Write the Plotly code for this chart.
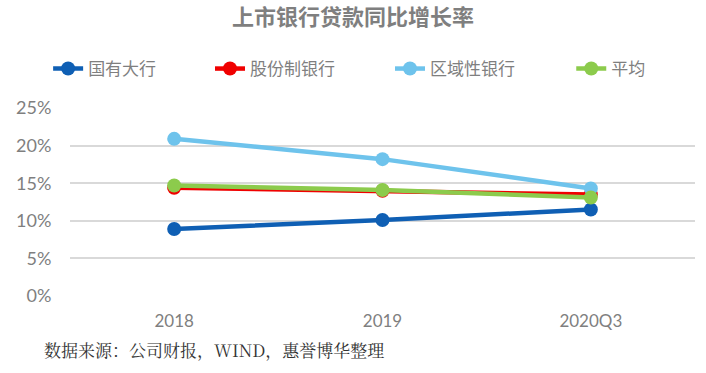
import plotly.graph_objects as go

categories = ["2018", "2019", "2020Q3"]
state_banks = [0.089, 0.101, 0.115]
joint_stock = [0.144, 0.140, 0.135]
regional = [0.209, 0.182, 0.143]
average = [0.147, 0.141, 0.131]

series_names = ["国有大行", "股份制银行", "区域性银行", "平均"]
series_values = [state_banks, joint_stock, regional, average]
colors = ["#0F5FB4", "#F00000", "#6EC3EC", "#8CCB4C"]
legend_ids = ["legend", "legend2", "legend3", "legend4"]
legend_x = [-0.035, 0.224, 0.512, 0.802]

fig = go.Figure()
for name, vals, c, lg in zip(series_names, series_values, colors, legend_ids):
    fig.add_trace(go.Scatter(
        x=categories, y=vals, name=name, mode="lines+markers",
        line=dict(color=c, width=4.5),
        marker=dict(color=c, size=14),
        legend=lg,
    ))

legend_font = dict(family="'Noto Sans CJK SC', sans-serif", size=17, color="#7F7F7F")
layout_legends = {}
for lg, lx in zip(legend_ids, legend_x):
    layout_legends[lg] = dict(orientation="h", x=lx, xanchor="left",
                              yref="container", y=1 - 69 / 373,
                              yanchor="middle", font=legend_font,
                              bgcolor="rgba(0,0,0,0)")

fig.update_layout(
    width=706, height=373,
    margin=dict(l=70, r=11, t=108, b=77, autoexpand=False),
    paper_bgcolor="white", plot_bgcolor="white",
    font=dict(family="Lato, 'Noto Sans CJK SC', sans-serif", color="#7F7F7F"),
    title=dict(text="<b>上市银行贷款同比增长率</b>", x=0.5, xanchor="center",
               yref="container", y=1 - 17 / 373, yanchor="middle",
               font=dict(family="'Noto Sans CJK SC', sans-serif", size=22, color="#7F7F7F")),
    showlegend=True,
    xaxis=dict(showgrid=False, showline=False, zeroline=False,
               ticks="outside", ticklen=10, tickcolor="rgba(0,0,0,0)",
               range=[-0.5, 2.5],
               tickfont=dict(size=17, color="#7F7F7F")),
    yaxis=dict(range=[0, 0.25], dtick=0.05, tickformat=".0%", showgrid=True,
               gridcolor="#D9D9D9", gridwidth=1.5, zeroline=False, showline=False,
               ticks="outside", ticklen=14, tickcolor="rgba(0,0,0,0)",
               tickfont=dict(size=18, color="#7F7F7F")),
    **layout_legends,
)
fig.add_annotation(text="数据来源：公司财报，WIND，惠誉博华整理", xref="paper", yref="paper",
                   x=-0.045, xanchor="left", y=-0.287, yanchor="middle", showarrow=False,
                   font=dict(family="'Noto Serif CJK SC', 'Noto Sans CJK SC', serif", size=17, color="#333333"))

fig.write_html("out.html", config={"displayModeBar": False},
               post_script="document.body.style.margin='0';document.body.style.padding='0';document.body.style.overflow='hidden';")
